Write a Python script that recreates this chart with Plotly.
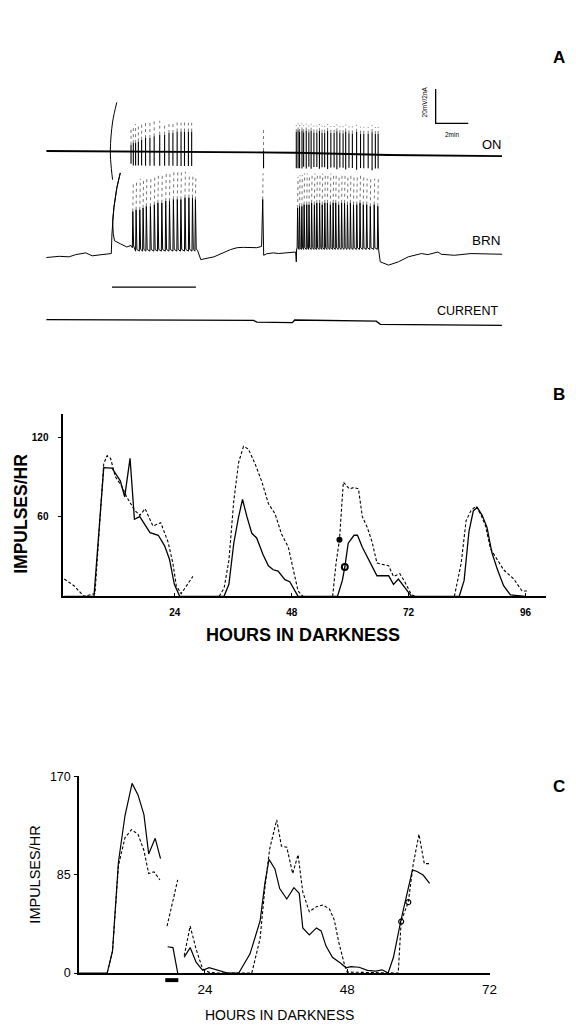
import numpy as np
import plotly.graph_objects as go

W, H = 576, 1033
FONT = "Liberation Sans, Arial, sans-serif"

# =============== Panel A data (time in min, potential in mV, current in nA) ===============
on_base_t = [0.0, 12.9, 15.3, 21.0, 27.95]
on_base_mv = [0.0, -1.0, -1.0, -2.3, -2.9]
on_art_t = [4.32, 4.06, 3.92, 3.98, 4.06]
on_art_mv = [28.2, 16.8, 0.6, -10.0, -16.6]

on_spk_t = [5.19, 5.33, 5.47, 5.64, 5.84, 6.08, 6.35, 6.61, 6.95, 7.25, 7.52, 7.76, 8.02, 8.26, 8.47, 8.71, 8.91,
            13.32,
            15.33, 15.44, 15.53, 15.68, 15.78, 15.94, 16.10, 16.24, 16.41, 16.59, 16.75, 16.91, 17.07, 17.25,
            17.45, 17.65, 17.82, 18.00, 18.20, 18.36, 18.56, 18.77, 19.03, 19.27, 19.47, 19.74, 19.98, 20.18, 20.35]
on_spk_up = [4, 5, 5, 6, 7, 8, 8, 9, 10, 10, 11, 11, 12, 12, 12, 12, 12,
             1,
             12, 13, 12, 13, 12, 13, 12, 13, 12, 12, 13, 12, 12, 13, 12,
             12, 13, 12, 12, 13, 12, 12, 13, 12, 12, 12, 13, 12, 12]
on_spk_faint = [13, 15, 16, 16, 17, 17, 17, 18, 18, 17, 18, 18, 18, 17, 18, 17, 17,
                14,
                16, 17, 16, 17, 16, 17, 16, 17, 16, 16, 17, 16, 16, 17, 16,
                16, 17, 16, 16, 17, 16, 16, 17, 16, 16, 16, 17, 16, 16]
on_spk_down = [-7, -8, -8, -8, -8, -8, -8, -8, -8, -8, -8, -8, -8, -8, -8, -8, -8,
               -9,
               -9, -9, -9, -9, -8, -9, -8, -9, -8, -8, -9, -8, -8, -9, -8,
               -8, -9, -8, -8, -9, -8, -8, -9, -8, -8, -8, -9, -8, -8]

brn_pre_t = [0.0, 0.79, 1.39, 1.80, 2.41, 2.81, 3.41, 3.98]
brn_pre_mv = [-1.7, -1.0, -1.3, 0.0, 1.0, -0.7, 0.0, 0.6]
brn_arc_t = [4.02, 4.06, 4.14, 4.32, 4.53, 4.32, 4.14, 4.06, 4.10, 4.18, 4.53, 4.93, 5.19]
brn_arc_mv = [12, 19.6, 27.3, 38.7, 47.3, 38.7, 27.3, 19.6, 12, 8, 6.3, 4.4, 5.3]

brn_b1_t = [5.27, 5.47, 5.70, 5.90, 6.10, 6.35, 6.59, 6.81, 7.05, 7.29, 7.52, 7.76, 8.00, 8.22, 8.47, 8.71, 8.93, 9.11]
brn_b1_peak = [25, 26, 26, 27, 28, 28, 29, 30, 30, 31, 31, 32, 32, 32, 33, 33, 33, 32]
brn_b1_faint = [42, 43, 44, 44, 45, 45, 46, 46, 47, 47, 47, 48, 48, 48, 48, 47, 47, 46]
brn_b1_trough = [4, 2, 2, 2, 2, 2, 2, 2, 2, 2, 2, 2, 2, 2, 2, 2, 2, 2]

brn_mid_t = [9.27, 9.47, 10.28, 11.29, 11.7, 12.1, 12.9, 13.20, 13.27, 13.33, 13.52, 13.92, 14.24, 15.29, 15.33, 15.35]
brn_mid_mv = [2.5, -2.9, -1.3, 2.9, 4.0, 4.2, 4.0, 4.7, 32.0, -0.4, 0.5, 1.0, 0.6, 1.5, -4.2, 3.4]
brn_single_faint = [13.29, 47.0]

brn_b2_t = [15.38, 15.50, 15.64, 15.78, 15.94, 16.08, 16.24, 16.41, 16.56, 16.73, 16.89, 17.05, 17.21, 17.39, 17.56,
            17.72, 17.90, 18.08, 18.26, 18.44, 18.62, 18.81, 19.01, 19.21, 19.41, 19.62, 19.84, 20.08, 20.30]
brn_b2_peak = [27, 28, 28, 29, 29, 29, 30, 29, 30, 30, 29, 30, 30, 29, 30, 30, 29, 30, 30, 29, 30, 29, 29, 30, 29, 29, 28, 29, 28]
brn_b2_faint = [45, 46, 46, 47, 47, 46, 47, 47, 46, 47, 47, 46, 47, 47, 46, 47, 46, 47, 46, 46, 47, 46, 45, 46, 45, 44, 45, 44, 44]
brn_b2_trough = [3.4, 3, 3, 3, 3, 3, 3, 3, 3, 3, 3, 3, 3, 3, 3, 3, 3, 3, 3, 3, 3, 3, 3, 3, 3, 3, 3, 3, 3]

brn_post_t = [20.38, 20.48, 20.99, 21.59, 22.2, 23.01, 23.4, 24.02, 24.22, 25.03, 26.04, 27.96]
brn_post_mv = [2.9, -4.2, -6.1, -4.2, -1.3, 0.6, 0.0, 1.5, 0.2, -0.4, 0.6, 0.2]

cur_t = [0.0, 12.71, 12.91, 15.09, 15.23, 20.24, 20.48, 27.94]
cur_na = [0.057, 0.017, -0.086, -0.114, 0.04, -0.029, -0.211, -0.269]

stim_t = [4.02, 9.17]
scale_mv, scale_min = 20, 2

# =============== Panel B data (hours, impulses/hr) ===============
b_solid_h = [1.3, 7.4, 9.4, 11.1, 12.8, 13.7, 14.8, 15.7, 16.8, 18.9, 20.6, 21.9, 22.9, 23.9, 25.0,
             34.1, 35.1, 36.1, 37.1, 37.9, 38.8, 39.8, 40.8, 42.1, 43.2, 44.2, 45.2, 46.6, 47.6, 48.6, 49.3,
             57.4, 58.4, 58.9, 59.6, 60.8, 61.5, 62.5, 63.8, 65.5, 67.9, 68.9, 69.9, 71.2, 72.6,
             82.4, 83.4, 84.4, 85.3, 86.1, 87.1, 88.1, 89.1, 90.2, 91.5, 92.9, 96.0]
b_solid_v = [0, 0, 97, 96.6, 87, 75, 104, 58, 60, 48, 46, 38, 28, 9, 0,
             0, 9, 40, 60, 73, 60, 47.5, 44, 31.5, 23, 20, 19, 12.5, 11, 5, 0,
             0, 12, 22, 40, 46, 46, 37, 27.5, 15.5, 15.5, 9, 13, 6.6, 0,
             0, 12, 49, 64.5, 67, 61, 52, 33, 20.5, 8, 1, 0]
b_dash_h = [1.3, 3.3, 5.3, 7.6, 9.4, 10.1, 10.8, 11.8, 13.1, 14.1, 15.7, 16.8, 17.9, 19.5, 21.1, 22.6, 23.6, 24.3, 25.3, 27.7,
            None,
            33.1, 34.1, 35.1, 36.1, 37.1, 38.1, 39.1, 40.5, 41.9, 43.2, 44.6, 45.9, 47.3, 48.3, 49.3, 50.3,
            None,
            56.4, 57.1, 57.8, 58.6, 59.8, 60.8, 61.7, 62.5, 63.5, 64.5, 65.5, 66.5, 67.9, 68.9, 70.2, 71.2, 72.6, 73.5,
            None,
            81.4, 82.8, 83.8, 84.8, 85.8, 86.8, 87.8, 88.8, 89.8, 91.5, 93.6, 95.3, 96.3]
b_dash_v = [13, 8, 0, 2, 100, 106, 104, 90, 83, 75, 65, 61, 66, 53, 55.5, 41, 25, 8, 2, 15,
            None,
            0, 6, 27, 72, 101, 113, 111, 99.6, 86, 70, 62, 47, 37, 21, 4, 0,
            None,
            0, 25, 42.6, 86, 81, 82, 81, 60, 52, 41, 25, 24, 23, 15, 17, 11, 1, 0,
            None,
            0, 25, 57, 64.5, 68, 62, 53, 36, 30, 20, 13, 4, 4]
b_mark_filled = [57.8, 42.6]
b_mark_open = [58.9, 22.0]

# =============== Panel C data (hours, impulses/hr) ===============
c_solid_h = [2.75, 7.5, 8.4, 9.4, 10.5, 11.7, 12.7, 13.7, 14.5, 15.6, 16.5,
             None, 17.7, 18.6, 19.4,
             None, 20.5, 21.5, 22.5, 23.6, 24.7, 26.1, 27.8, 29.7, 31.6, 33.3, 34.1, 34.8, 35.8, 36.6, 37.8,
             39.0, 39.9, 40.5, 41.6, 42.8, 43.6, 44.4, 45.5, 46.9, 47.8, 48.6, 50.0, 51.4, 52.8, 53.9, 54.9,
             55.8, 57.0, 59.0, 59.7, 60.8, 61.9]
c_solid_v = [0, 0, 19, 96, 136, 164, 154, 137, 103, 116.5, 99,
             None, 22.7, 22, 0,
             None, 13.6, 22, 9.4, 2.3, 4.6, 2.3, 0, 0, 16.6, 45, 77.5, 98.3, 90, 73, 64,
             73.8, 69, 39, 33, 39, 36.4, 23.5, 13.6, 8.5, 4.5, 5.6, 5, 2.3, 1.7, 2.8, 0,
             13.6, 44.3, 89, 88, 84.7, 77.5]
c_dash_h = [7.5, 8.4, 9.4, 10.5, 11.6, 12.7, 13.7, 14.5, 15.4, 16.4,
            None, 17.6, 19.4,
            None, 20.5, 21.5, 22.5, 23.6, 24.7, 26.0, 31.9, 33.3, 34.1, 34.9, 36.1, 36.9, 37.8, 38.8, 39.7,
            40.5, 41.6, 42.8, 43.9, 45.0, 45.8, 46.6, 47.5, 48.0, 56.6, 57.1, 58.3, 59.1, 60.1, 61.0, 61.9]
c_dash_v = [0, 19, 93, 117, 124, 120, 106, 86, 87.5, 80.5,
            None, 40.6, 80.5,
            None, 15, 40.6, 20.7, 3.4, 0.6, 0, 0, 30, 73, 107, 132.4, 109.7, 108.8, 86, 102.3,
            70, 53, 57.4, 58.8, 55.4, 46, 26, 7.9, 0.8, 0, 45, 61.3, 93, 120, 94.6, 94.6]
c_mark_a = [57.1, 44.5]
c_mark_b = [58.3, 61.3]
c_bar_h = [17.3, 19.5]

# =============== layout helpers (pixel placement) ===============
def ya(py):  # panel A vertical placement, 1.75 px per mV
    return (330.0 - py) / 1.75

ON_OFF, BRN_OFF, CUR_OFF = ya(146), ya(251), ya(318)
NA_TO_UNITS = 10.0  # 2 nA == 20 mV on the scale bar

def px(x):
    return x / W

def py_(y):
    return 1 - y / H

fig = go.Figure()
A = dict(xaxis="x3", yaxis="y3", mode="lines", showlegend=False, hoverinfo="skip")

# ON trace baseline
fig.add_trace(go.Scatter(x=on_base_t, y=[ON_OFF + v for v in on_base_mv], line=dict(color="black", width=1.8), **A))
# ON spikes
base_at = np.interp(on_spk_t, on_base_t, on_base_mv)
sx, sy, fx, fy = [], [], [], []
for t, b, u, f, d in zip(on_spk_t, base_at, on_spk_up, on_spk_faint, on_spk_down):
    sx += [t, t, None]
    sy += [ON_OFF + b + d, ON_OFF + b + u, None]
    fx += [t, t, None]
    fy += [ON_OFF + b + u, ON_OFF + b + f, None]
fig.add_trace(go.Scatter(x=sx, y=sy, line=dict(color="black", width=1.1), **A))
fig.add_trace(go.Scatter(x=fx, y=fy, line=dict(color="#777", width=1, dash="dot"), **A))
fig.add_trace(go.Scatter(x=on_art_t, y=[ON_OFF + v for v in on_art_mv], line=dict(color="black", width=1, shape="spline"), **A))

# BRN trace
bx = list(brn_pre_t) + list(brn_arc_t)
by = list(brn_pre_mv) + list(brn_arc_mv)
ffx, ffy = [], []
for t, p, f, tr in zip(brn_b1_t, brn_b1_peak, brn_b1_faint, brn_b1_trough):
    bx += [t, t + 0.03, t + 0.08]
    by += [tr, p, tr + 1]
    ffx += [t + 0.03, t + 0.06, None]
    ffy += [BRN_OFF + p, BRN_OFF + f, None]
bx += brn_mid_t
by += brn_mid_mv
ffx += [brn_mid_t[8], brn_single_faint[0], None]
ffy += [BRN_OFF + brn_mid_mv[8], BRN_OFF + brn_single_faint[1], None]
for t, p, f, tr in zip(brn_b2_t, brn_b2_peak, brn_b2_faint, brn_b2_trough):
    bx += [t, t + 0.03, t + 0.07]
    by += [tr, p, tr + 1]
    ffx += [t + 0.03, t + 0.06, None]
    ffy += [BRN_OFF + p, BRN_OFF + f, None]
bx += brn_post_t
by += brn_post_mv
fig.add_trace(go.Scatter(x=bx, y=[BRN_OFF + v for v in by], line=dict(color="black", width=1), **A))
fig.add_trace(go.Scatter(x=ffx, y=ffy, line=dict(color="#777", width=1, dash="dot"), **A))

# current trace
fig.add_trace(go.Scatter(x=cur_t, y=[CUR_OFF + NA_TO_UNITS * v for v in cur_na], line=dict(color="black", width=1.3), **A))
# stimulus bar
fig.add_trace(go.Scatter(x=stim_t, y=[ya(284)] * 2, line=dict(color="black", width=1.4), **A))
# scale bar
sb_x0, sb_y0 = 23.88, ya(118)
fig.add_trace(go.Scatter(x=[sb_x0, sb_x0, sb_x0 + scale_min], y=[sb_y0 + scale_mv, sb_y0, sb_y0],
                         line=dict(color="black", width=1.3), **A))

# ---------------- Panel B ----------------
fig.add_trace(go.Scatter(x=b_solid_h, y=b_solid_v, mode="lines", line=dict(color="black", width=1.3),
                         showlegend=False, xaxis="x", yaxis="y"))
fig.add_trace(go.Scatter(x=b_dash_h, y=b_dash_v, mode="lines", line=dict(color="black", width=1.1, dash="3px,2px"),
                         showlegend=False, xaxis="x", yaxis="y"))
fig.add_trace(go.Scatter(x=[b_mark_filled[0]], y=[b_mark_filled[1]], mode="markers",
                         marker=dict(symbol="circle", size=6, color="black"), showlegend=False, xaxis="x", yaxis="y"))
fig.add_trace(go.Scatter(x=[b_mark_open[0]], y=[b_mark_open[1]], mode="markers",
                         marker=dict(symbol="circle-open", size=6, color="black", line=dict(width=2)),
                         showlegend=False, xaxis="x", yaxis="y"))

# ---------------- Panel C ----------------
fig.add_trace(go.Scatter(x=c_solid_h, y=c_solid_v, mode="lines", line=dict(color="black", width=1.2),
                         showlegend=False, xaxis="x2", yaxis="y2"))
fig.add_trace(go.Scatter(x=c_dash_h, y=c_dash_v, mode="lines", line=dict(color="black", width=1.1, dash="3px,2px"),
                         showlegend=False, xaxis="x2", yaxis="y2"))
fig.add_trace(go.Scatter(x=[c_mark_a[0], c_mark_b[0]], y=[c_mark_a[1], c_mark_b[1]], mode="markers",
                         marker=dict(symbol="circle-open", size=5, color="black", line=dict(width=1.2)),
                         showlegend=False, xaxis="x2", yaxis="y2"))

fig.add_shape(type="rect", xref="x2", yref="paper", x0=c_bar_h[0], x1=c_bar_h[1],
              y0=py_(988.5), y1=py_(984.5), fillcolor="black", line=dict(width=0))

axB = dict(showgrid=False, zeroline=False, showline=True, linecolor="black", linewidth=1.5)
fig.update_layout(
    width=W, height=H, margin=dict(l=0, r=0, t=0, b=0),
    paper_bgcolor="white", plot_bgcolor="rgba(0,0,0,0)",
    font=dict(family=FONT, color="black"),
    xaxis=dict(domain=[64 / W, 553 / W], range=[1.08, 100.27], tickvals=[24, 48, 72, 96], ticks="inside",
               ticklen=4, tickcolor="black", tickfont=dict(size=10, weight="bold"), ticklabelstandoff=6,
               anchor="y", **axB),
    yaxis=dict(domain=[py_(597.4), py_(413)], range=[0, 137.1], tickvals=[60, 120], ticks="outside",
               ticklen=3, tickcolor="black", tickfont=dict(size=10, weight="bold"), ticklabelstandoff=8,
               anchor="x", **axB),
    xaxis2=dict(domain=[80 / W, 496 / W], range=[2.75, 72.08], tickvals=[24, 48, 72], ticks="inside",
                ticklen=4, tickcolor="black", tickfont=dict(size=13.5), ticklabelstandoff=3,
                anchor="y2", **axB),
    yaxis2=dict(domain=[py_(979.3), py_(780)], range=[0, 170], tickvals=[0, 85, 170], ticks="outside",
                ticklen=3, tickcolor="black", tickfont=dict(size=12.5), ticklabelstandoff=1,
                anchor="x2", **axB),
    xaxis3=dict(domain=[0, 1], range=[-47 / 16.5, (W - 47) / 16.5], visible=False, anchor="y3"),
    yaxis3=dict(domain=[0, 1], range=[ya(H), ya(0)], visible=False, anchor="x3"),
)

def ann(text, x, y, size, angle=0, weight="normal"):
    fig.add_annotation(text=text, x=px(x), y=py_(y), xref="paper", yref="paper", showarrow=False,
                       xanchor="center", yanchor="middle", textangle=angle,
                       font=dict(size=size, family=FONT, color="black", weight=weight))

ann("A", 566, 51, 17, weight="bold")
ann("B", 566, 393, 17, weight="bold")
ann("C", 566, 790, 17, weight="bold")
ann("ON", 498, 139, 13)
ann("BRN", 492, 237, 13.5)
ann("CURRENT", 473, 308, 12.5)
ann("20mV/2nA", 430, 96, 6.5, angle=-90)
ann("2min", 458, 129, 6.5)
ann("IMPULSES/HR", 21, 514, 17.5, angle=-90, weight="bold")
ann("HOURS IN DARKNESS", 307, 637, 18, weight="bold")
ann("IMPULSES/HR", 35, 880, 14.5, angle=-90)
ann("HOURS IN DARKNESS", 283, 1022, 14)

fig.write_html("out.html")
